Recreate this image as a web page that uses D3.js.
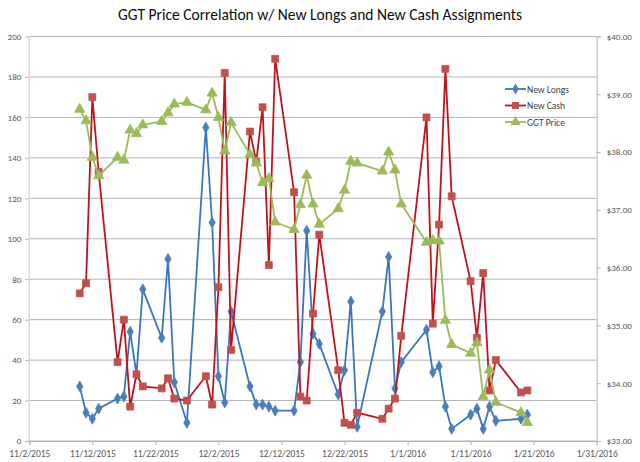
<!DOCTYPE html>
<html>
<head>
<meta charset="utf-8">
<script src="https://cdn.jsdelivr.net/npm/d3@7"></script>
<style>
  body { margin: 0; background: #fff; }
  text { font-family: Carlito, Lato, "Open Sans", sans-serif; }
</style>
</head>
<body>
<div id="chart"></div>
<script>
// trading days shown in the chart
const dates = [
  "2015-11-10","2015-11-11","2015-11-12","2015-11-13","2015-11-16","2015-11-17","2015-11-18","2015-11-19","2015-11-20",
  "2015-11-23","2015-11-24","2015-11-25","2015-11-27","2015-11-30","2015-12-01","2015-12-02","2015-12-03","2015-12-04",
  "2015-12-07","2015-12-08","2015-12-09","2015-12-10","2015-12-11","2015-12-14","2015-12-15","2015-12-16","2015-12-17",
  "2015-12-18","2015-12-21","2015-12-22","2015-12-23","2015-12-24","2015-12-28","2015-12-29","2015-12-30","2015-12-31",
  "2016-01-04","2016-01-05","2016-01-06","2016-01-07","2016-01-08","2016-01-11","2016-01-12","2016-01-13","2016-01-14",
  "2016-01-15","2016-01-19","2016-01-20"
];
const newLongs = [
  27, 14, 11, 16, 21, 22, 54, 33, 75,
  51, 90, 29, 9, 155, 108, 32, 19, 64,
  27, 18, 18, 17, 15, 15, 39, 104, 53,
  48, 23, 35, 69, 7, 64, 91, 26, 39,
  55, 34, 37, 17, 6, 13, 16, 6, 17,
  10, 11, 13
];
const newCash = [
  73, 78, 170, 133, 39, 60, 17, 33, 27,
  26, 31, 21, 20, 32, 18, 76, 182, 45,
  153, 138, 165, 87, 189, 123, 22, 20, 63,
  102, 35, 9, 8, 14, 11, 16, 21, 52,
  160, 58, 107, 184, 121, 79, 51, 83, 25,
  40, 24, 25
];
const ggtPrice = [
  38.74, 38.54, 37.91, 37.59, 37.91, 37.86, 38.38, 38.32, 38.47,
  38.53, 38.68, 38.83, 38.86, 38.73, 39.02, 38.60, 38.02, 38.51,
  37.96, 37.81, 37.47, 37.54, 36.79, 36.66, 37.09, 37.60, 37.10,
  36.75, 37.02, 37.34, 37.84, 37.81, 37.67, 38.00, 37.69, 37.10,
  36.44, 36.47, 36.46, 35.09, 34.67, 34.52, 34.70, 33.77, 34.23,
  33.67, 33.49, 33.32
];
const xTicks = ["2015-11-02","2015-11-12","2015-11-22","2015-12-02","2015-12-12","2015-12-22",
                "2016-01-01","2016-01-11","2016-01-21","2016-01-31"];
const leftTicks = [0, 20, 40, 60, 80, 100, 120, 140, 160, 180, 200];
const rightTicks = [33, 34, 35, 36, 37, 38, 39, 40];

const width = 640, height = 462;
const plot = { left: 29.3, right: 596.7, top: 36.5, bottom: 441 };

const parseTime = d3.timeParse("%Y-%m-%d");
const days = dates.map(parseTime);
const tickDates = xTicks.map(parseTime);

const svg = d3.select("#chart")
              .append("svg")
              .attr("width", width)
              .attr("height", height);

const xScale = d3.scaleTime()
                 .domain([tickDates[0], tickDates[tickDates.length - 1]])
                 .range([plot.left, plot.right]);
const yScale = d3.scaleLinear().domain([0, 200]).range([plot.bottom, plot.top]);
const y2Scale = d3.scaleLinear().domain([33, 40]).range([plot.bottom, plot.top]);

// Title
svg.append("text")
   .attr("x", 320)
   .attr("y", 20)
   .attr("text-anchor", "middle")
   .attr("font-size", 15.5)
   .attr("fill", "#0d0d0d")
   .text("GGT Price Correlation w/ New Longs and New Cash Assignments");

// Grid lines + left axis
const yAxis = svg.append("g")
   .attr("transform", `translate(${plot.left},0)`)
   .call(d3.axisLeft(yScale).tickValues(leftTicks).tickSize(4).tickPadding(4));
yAxis.select(".domain").remove();
yAxis.selectAll(".tick line").attr("stroke", "#b3b3b3");
yAxis.selectAll(".tick text").attr("fill", "#595959").attr("font-size", 9)
     .attr("font-family", "Carlito, Lato, sans-serif");
svg.append("g")
   .selectAll("line")
   .data(leftTicks)
   .join("line")
   .attr("x1", plot.left)
   .attr("x2", plot.right)
   .attr("y1", d => yScale(d))
   .attr("y2", d => yScale(d))
   .attr("stroke", "#b3b3b3")
   .attr("stroke-width", 1);
svg.append("line")
   .attr("x1", plot.left).attr("x2", plot.left)
   .attr("y1", plot.top).attr("y2", plot.bottom)
   .attr("stroke", "#d9d9d9").attr("stroke-width", 1.5);

// Right axis
const y2Axis = svg.append("g")
   .attr("transform", `translate(${plot.right},0)`)
   .call(d3.axisRight(y2Scale).tickValues(rightTicks).tickSize(4).tickPadding(6)
           .tickFormat(d => "$" + d3.format(".2f")(d)));
y2Axis.select(".domain").attr("stroke", "#b3b3b3");
y2Axis.selectAll(".tick line").attr("stroke", "#b3b3b3");
y2Axis.selectAll(".tick text").attr("fill", "#595959").attr("font-size", 9)
      .attr("font-family", "Carlito, Lato, sans-serif");

// Bottom axis
const xAxis = svg.append("g")
   .attr("transform", `translate(0,${plot.bottom})`)
   .call(d3.axisBottom(xScale).tickValues(tickDates).tickSize(4).tickPadding(5)
           .tickFormat(d3.timeFormat("%-m/%-d/%Y")));
xAxis.select(".domain").attr("stroke", "#b3b3b3");
xAxis.selectAll(".tick line").attr("stroke", "#b3b3b3");
xAxis.selectAll(".tick text").attr("fill", "#595959").attr("font-size", 9.5)
     .attr("font-family", "Carlito, Lato, sans-serif");

// Series
const series = [
  { name: "New Longs", values: newLongs, scale: yScale, line: "#3b74c0", fill: "#4a7ebb", shape: d3.symbolDiamond, size: 34 },
  { name: "New Cash", values: newCash, scale: yScale, line: "#c0141c", fill: "#c0504d", shape: d3.symbolSquare, size: 48 },
  { name: "GGT Price", values: ggtPrice, scale: y2Scale, line: "#9bbb59", fill: "#9bbb59", shape: d3.symbolTriangle, size: 46 }
];

series.forEach(s => {
  const pts = days.map((d, i) => [xScale(d), s.scale(s.values[i])]);
  svg.append("path")
     .datum(pts)
     .attr("fill", "none")
     .attr("stroke", s.line)
     .attr("stroke-width", 1.8)
     .attr("stroke-linejoin", "round")
     .attr("d", d3.line());
  svg.append("g")
     .selectAll("path")
     .data(pts)
     .join("path")
     .attr("transform", d => `translate(${d[0]},${d[1]})`)
     .attr("d", d3.symbol().type(s.shape).size(s.size))
     .attr("fill", s.fill)
     .attr("stroke", s.fill)
     .attr("stroke-width", 0.8);
});

// Legend
const legend = svg.append("g").attr("transform", "translate(505,89)");
series.forEach((s, i) => {
  const g = legend.append("g").attr("transform", `translate(0,${i * 16.5})`);
  g.append("line").attr("x1", 0).attr("x2", 21).attr("stroke", s.line).attr("stroke-width", 1.8);
  g.append("path").attr("transform", "translate(10.5,0)")
   .attr("d", d3.symbol().type(s.shape).size(s.size)).attr("fill", s.fill);
  g.append("text").attr("x", 22).attr("y", 3.5).attr("font-size", 9.5)
   .attr("fill", "#404040").text(s.name);
});
</script>
</body>
</html>
